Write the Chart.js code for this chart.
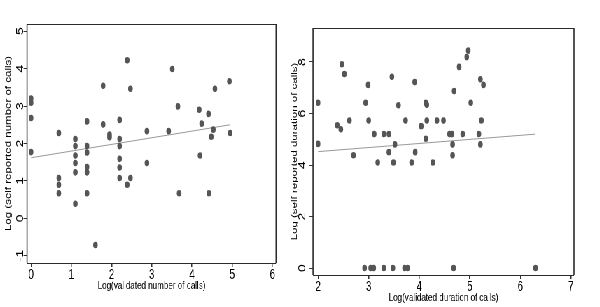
<!DOCTYPE html>
<html lang="en">
<head>
  <meta charset="UTF-8">
  <title>Self reported vs validated calls</title>
  <script src="https://cdn.jsdelivr.net/npm/chart.js"></script>
  <style>
    body { margin: 0; background: #fff; }
    /* the source figure is squeezed horizontally, so draw wide and scale down */
    .wrap {
      position: relative;
      width: 857px;
      height: 307px;
      transform: scaleX(0.7);
      transform-origin: 0 0;
    }
    .wrap canvas { position: absolute; top: 0; }
    #calls { left: 0; }
    #duration { left: 400px; }
  </style>
</head>
<body>
  <div class="wrap">
    <canvas id="calls" width="420" height="307"></canvas>
    <canvas id="duration" width="457" height="307"></canvas>
  </div>

  <script>
    // left panel: number of calls
    const callsX = [0, 0, 0, 0, 0.69, 0.69, 0.69, 0.69, 1.1, 1.1, 1.1, 1.1, 1.1, 1.1,
      1.39, 1.39, 1.39, 1.39, 1.39, 1.39, 1.6, 1.79, 1.79, 1.95, 1.95,
      2.2, 2.2, 2.2, 2.2, 2.2, 2.2, 2.39, 2.39, 2.47, 2.47, 2.88, 2.88,
      3.42, 3.51, 3.65, 3.68, 4.18, 4.2, 4.24, 4.41, 4.42, 4.48, 4.53, 4.57, 4.93, 4.95];
    const callsY = [3.2, 3.09, 2.68, 1.77, 2.28, 1.08, 0.9, 0.67, 2.12, 1.93, 1.68, 1.48, 1.23, 0.39,
      2.59, 1.93, 1.76, 1.37, 1.23, 0.67, -0.71, 3.54, 2.51, 2.24, 2.17,
      2.63, 2.12, 1.93, 1.59, 1.36, 1.08, 4.22, 0.9, 3.46, 1.08, 2.33, 1.48,
      2.33, 3.99, 2.99, 0.67, 2.9, 1.68, 2.53, 2.79, 0.67, 2.18, 2.37, 3.46, 3.66, 2.28];
    const fitCallsX = [0, 4.95];
    const fitCallsY = [1.62, 2.5];
    const callsXTicks = [0, 1, 2, 3, 4, 5, 6];
    const callsYTicks = [-1, 0, 1, 2, 3, 4, 5];

    // right panel: duration of calls
    const durX = [2.0, 2.0, 2.38, 2.45, 2.47, 2.52, 2.62, 2.7,
      2.92, 2.94, 2.99, 3.0, 3.04, 3.1, 3.11, 3.18,
      3.3, 3.3, 3.4, 3.4, 3.46, 3.48, 3.49, 3.52, 3.59,
      3.71, 3.73, 3.77, 3.85, 3.91, 3.92, 4.04,
      4.13, 4.15, 4.15, 4.13, 4.27, 4.35, 4.48,
      4.6, 4.65, 4.66, 4.66, 4.68, 4.69, 4.79, 4.86,
      4.94, 4.97, 5.02, 5.18, 5.21, 5.21, 5.23, 5.27, 6.3];
    const durY = [6.42, 4.82, 5.54, 5.39, 7.91, 7.53, 5.73, 4.38,
      0, 6.42, 7.11, 5.73, 0, 0, 5.2, 4.1,
      5.2, 0, 5.2, 4.5, 7.43, 0, 4.1, 4.8, 6.32,
      0, 5.73, 0, 4.1, 7.22, 4.5, 5.51,
      6.42, 6.34, 5.73, 5.02, 4.1, 5.73, 5.73,
      5.2, 5.2, 4.8, 4.38, 0, 6.87, 7.81, 5.2,
      8.19, 8.44, 6.42, 5.2, 7.33, 4.8, 5.73, 7.11, 0];
    const fitDurX = [2.0, 6.3];
    const fitDurY = [4.52, 5.2];
    const durXTicks = [2, 3, 4, 5, 6, 7];
    const durYTicks = [0, 2, 4, 6, 8];

    Chart.defaults.font.family = '"Liberation Sans", Arial, sans-serif';
    Chart.defaults.color = '#000';

    // y labels are turned on their side, and the plot gets a full box
    const boxAndLabels = {
      id: 'boxAndLabels',
      afterDraw(chart, args, opts) {
        const { ctx, chartArea: a, scales: { y } } = chart;
        ctx.save();
        ctx.font = '14px "Liberation Sans", Arial, sans-serif';
        ctx.fillStyle = '#000';
        ctx.textAlign = 'center';
        ctx.textBaseline = 'alphabetic';
        opts.ticks.forEach(v => {
          ctx.save();
          ctx.translate(a.left - opts.offset, y.getPixelForValue(v));
          ctx.rotate(-Math.PI / 2);
          ctx.fillText(String(v), 0, 0);
          ctx.restore();
        });
        ctx.strokeStyle = '#2a2a2a';
        ctx.lineWidth = 1;
        ctx.beginPath();
        ctx.moveTo(a.left, a.top + 0.5); ctx.lineTo(a.right, a.top + 0.5);
        ctx.moveTo(a.left, a.bottom + 0.5); ctx.lineTo(a.right, a.bottom + 0.5);
        ctx.stroke();
        ctx.lineWidth = 1.6;
        ctx.beginPath();
        ctx.moveTo(a.left, a.top); ctx.lineTo(a.left, a.bottom);
        ctx.moveTo(a.right, a.top); ctx.lineTo(a.right, a.bottom);
        ctx.stroke();
        ctx.restore();
      }
    };

    function makeChart(id, xs, ys, fx, fy, xt, yt, xTitle, yTitle, lay) {
      return new Chart(document.getElementById(id), {
        type: 'scatter',
        data: {
          datasets: [{
            data: xs.map((x, i) => ({ x: x, y: ys[i] })),
            backgroundColor: '#555555',
            borderWidth: 0,
            pointRadius: 3.3
          }, {
            data: fx.map((x, i) => ({ x: x, y: fy[i] })),
            showLine: true,
            borderColor: '#999999',
            borderWidth: 1,
            pointRadius: 0
          }]
        },
        options: {
          responsive: false,
          animation: false,
          devicePixelRatio: 1,
          layout: { padding: { top: lay.top, right: lay.right, bottom: lay.bottom, left: 0 } },
          plugins: {
            legend: { display: false },
            tooltip: { enabled: false },
            boxAndLabels: { ticks: yt, offset: lay.labelOffset }
          },
          scales: {
            x: {
              type: 'linear',
              min: lay.xmin, max: lay.xmax,
              afterBuildTicks: s => { s.ticks = xt.map(v => ({ value: v })); },
              afterFit: s => { s.height = 30; },
              ticks: { font: { size: 14 }, padding: 0, maxRotation: 0, color: '#000' },
              grid: { drawOnChartArea: false, tickLength: 4, color: '#333', lineWidth: 1.5 },
              border: { display: false },
              title: { display: true, text: xTitle, font: { size: 11.5 }, padding: 0, color: '#000' }
            },
            y: {
              type: 'linear',
              min: lay.ymin, max: lay.ymax,
              afterBuildTicks: s => { s.ticks = yt.map(v => ({ value: v })); },
              afterFit: s => { s.width = lay.yWidth; },
              ticks: { display: false },
              grid: { drawOnChartArea: false, tickLength: 5, color: '#333', lineWidth: 1 },
              border: { display: false },
              title: { display: true, text: yTitle, font: { size: 11.5 }, padding: { top: lay.titlePad, bottom: 0 }, color: '#000' }
            }
          }
        },
        plugins: [boxAndLabels]
      });
    }

    makeChart('calls', callsX, callsY, fitCallsX, fitCallsY, callsXTicks, callsYTicks,
      'Log(validated number of calls)', 'Log (self reported number of calls)',
      { top: 24, right: 25.7, bottom: 14, yWidth: 38.6, titlePad: 4.5, labelOffset: 6,
        xmin: -0.1, xmax: 6.09, ymin: -1.19, ymax: 5.19 });

    makeChart('duration', durX, durY, fitDurX, fitDurY, durXTicks, durYTicks,
      'Log(validated duration of calls)', 'Log (self reported duration of calls)',
      { top: 28, right: 37, bottom: 2, yWidth: 47.1, titlePad: 13.5, labelOffset: 10.7,
        xmin: 1.9, xmax: 7.06, ymin: -0.27, ymax: 9.32 });
  </script>
</body>
</html>
